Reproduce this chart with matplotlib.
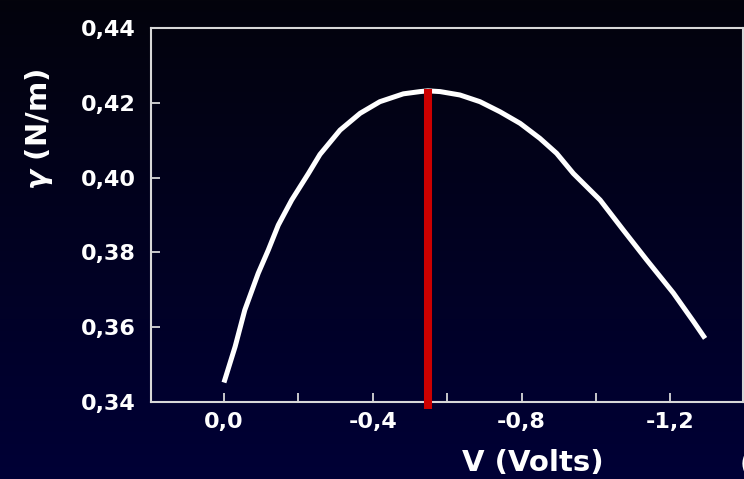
import numpy as np
import matplotlib
matplotlib.use("Agg")
import matplotlib.pyplot as plt

# electrocapillary curve
volts = [0.0, -0.030, -0.056, -0.092, -0.119, -0.146, -0.182, -0.227, -0.258, -0.312,
         -0.366, -0.419, -0.482, -0.527, -0.548, -0.581, -0.634, -0.688, -0.742, -0.796,
         -0.849, -0.894, -0.939, -1.011, -1.073, -1.136, -1.208, -1.262, -1.293]
gamma = [0.3452, 0.3548, 0.3646, 0.3744, 0.3806, 0.3873, 0.3940, 0.4011, 0.4062, 0.4127,
         0.4172, 0.4203, 0.4224, 0.4230, 0.4232, 0.4230, 0.4221, 0.4203, 0.4176, 0.4145,
         0.4105, 0.4065, 0.4011, 0.3940, 0.3860, 0.3780, 0.3691, 0.3615, 0.3570]

v_max = -0.548          # potential of the maximum (red line)
red_span = [0.3381, 0.4237]

xticks = [0.0, -0.2, -0.4, -0.6, -0.8, -1.0, -1.2]
xlabels = ["0,0", "", "-0,4", "", "-0,8", "", "-1,2"]
yticks = [0.34, 0.36, 0.38, 0.40, 0.42, 0.44]
ylabels = ["0,34", "0,36", "0,38", "0,40", "0,42", "0,44"]

plt.rcParams['font.family'] = ['DejaVu Sans']
plt.rcParams['font.weight'] = 'bold'

fig = plt.figure(figsize=(7.44, 4.79), dpi=100)

# background gradient: black at top, navy at bottom
bg = fig.add_axes([0, 0, 1, 1])
grad = np.linspace(0, 1, 256).reshape(-1, 1)
cmap = matplotlib.colors.LinearSegmentedColormap.from_list(
    "bg", ["#03030c", "#000036"])
bg.imshow(grad, aspect='auto', cmap=cmap, extent=[0, 1, 0, 1], origin='upper')
bg.axis('off')

ax = fig.add_axes([0.203, 0.1608, 0.7957, 0.7807])
ax.set_facecolor('none')

ax.plot(volts, gamma, color='white', lw=3.6, solid_capstyle='butt',
        solid_joinstyle='round', zorder=3)
ax.plot([v_max, v_max], red_span, color='#cc0000', lw=5.8,
        solid_capstyle='butt', clip_on=False, zorder=4)

ax.set_xlim(0.196, -1.395)
ax.set_ylim(0.34, 0.44)

ax.set_xticks(xticks)
ax.set_xticklabels(xlabels)
ax.set_yticks(yticks)
ax.set_yticklabels(ylabels)

for s in ax.spines.values():
    s.set_color('#d8d8d8')
    s.set_linewidth(1.5)

ax.tick_params(axis='both', direction='in', length=6.5, width=1.3,
               color='#d8d8d8', labelcolor='white', labelsize=16)
ax.tick_params(axis='y', pad=11)
ax.tick_params(axis='x', pad=7)

fig.text(0.716, 0.005, "V (Volts)", color='white', fontsize=21,
         fontweight='bold', ha='center', va='bottom')
fig.text(0.052, 0.73, r"$\gamma$ (N/m)", color='white', fontsize=21,
         fontweight='bold', rotation=90, ha='center', va='center')
# partly hidden character at the lower right corner, as in the source
fig.text(0.994, 0.0, "(", color='white', fontsize=20,
         fontweight='bold', ha='left', va='bottom')

fig.savefig("out.png", dpi=100)
